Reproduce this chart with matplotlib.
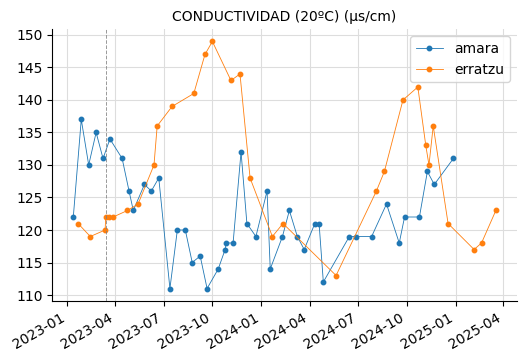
import matplotlib
matplotlib.use("Agg")
import matplotlib.pyplot as plt
import matplotlib.dates as mdates
import pandas as pd

amara_dates = ["2023-01-12", "2023-01-27", "2023-02-10", "2023-02-24", "2023-03-09", "2023-03-22",
               "2023-04-14", "2023-04-27", "2023-05-05", "2023-05-26", "2023-06-08", "2023-06-22",
               "2023-07-13", "2023-07-27", "2023-08-11", "2023-08-24", "2023-09-08", "2023-09-21",
               "2023-10-12", "2023-10-25", "2023-10-27", "2023-11-09", "2023-11-24", "2023-12-05",
               "2023-12-22", "2024-01-12", "2024-01-18", "2024-02-10", "2024-02-23", "2024-03-09",
               "2024-03-22", "2024-04-11", "2024-04-19", "2024-04-27", "2024-06-15", "2024-06-28",
               "2024-07-27", "2024-08-24", "2024-09-17", "2024-09-27", "2024-10-25", "2024-11-09",
               "2024-11-22", "2024-12-28"]
amara_values = [122, 137, 130, 135, 131, 134,
                131, 126, 123, 127, 126, 128,
                111, 120, 120, 115, 116, 111,
                114, 117, 118, 118, 132, 121,
                119, 126, 114, 119, 123, 119,
                117, 121, 121, 112, 119, 119,
                119, 124, 118, 122, 122, 129,
                127, 131]

erratzu_dates = ["2023-01-21", "2023-02-13", "2023-03-13", "2023-03-14", "2023-03-21", "2023-03-28",
                 "2023-04-24", "2023-05-14", "2023-06-13", "2023-06-19", "2023-07-17", "2023-08-27",
                 "2023-09-17", "2023-10-01", "2023-11-05", "2023-11-22", "2023-12-11", "2024-01-22",
                 "2024-02-11", "2024-05-21", "2024-08-05", "2024-08-20", "2024-09-24", "2024-10-22",
                 "2024-11-06", "2024-11-12", "2024-11-20", "2024-12-18", "2025-02-05", "2025-02-19",
                 "2025-03-18"]
erratzu_values = [121, 119, 120, 122, 122, 122,
                  123, 124, 130, 136, 139, 141,
                  147, 149, 143, 144, 128, 119,
                  121, 113, 126, 129, 140, 142,
                  133, 130, 136, 121, 117, 118,
                  123]

marker_date = "2023-03-15"
title = "CONDUCTIVIDAD (20ºC) (µs/cm)"

fig = plt.figure(figsize=(5.27, 3.61), dpi=100)
ax = fig.add_axes([0.099, 0.1666, 0.882, 0.7527])

ax.plot(pd.to_datetime(amara_dates), amara_values, marker="o", markersize=3.2,
        linewidth=0.6, color="#1f77b4", label="amara")
ax.plot(pd.to_datetime(erratzu_dates), erratzu_values, marker="o", markersize=3.2,
        linewidth=0.6, color="#ff7f0e", label="erratzu")
ax.axvline(pd.to_datetime(marker_date), color="gray", linestyle="--", linewidth=0.7, alpha=0.8)

ax.set_title(title, fontsize=10)
ax.grid(True, color="#dddddd", linewidth=0.8)
ax.set_axisbelow(True)
for s in ["top", "right"]:
    ax.spines[s].set_visible(False)

ax.xaxis.set_major_locator(mdates.MonthLocator(bymonth=[1, 4, 7, 10]))
ax.xaxis.set_major_formatter(mdates.DateFormatter("%Y-%m"))
for lbl in ax.get_xticklabels():
    lbl.set_rotation(30)
    lbl.set_horizontalalignment("right")
ax.tick_params(labelsize=10)
ax.legend(loc="upper right", fontsize=10)

fig.savefig("out.png", dpi=100)
